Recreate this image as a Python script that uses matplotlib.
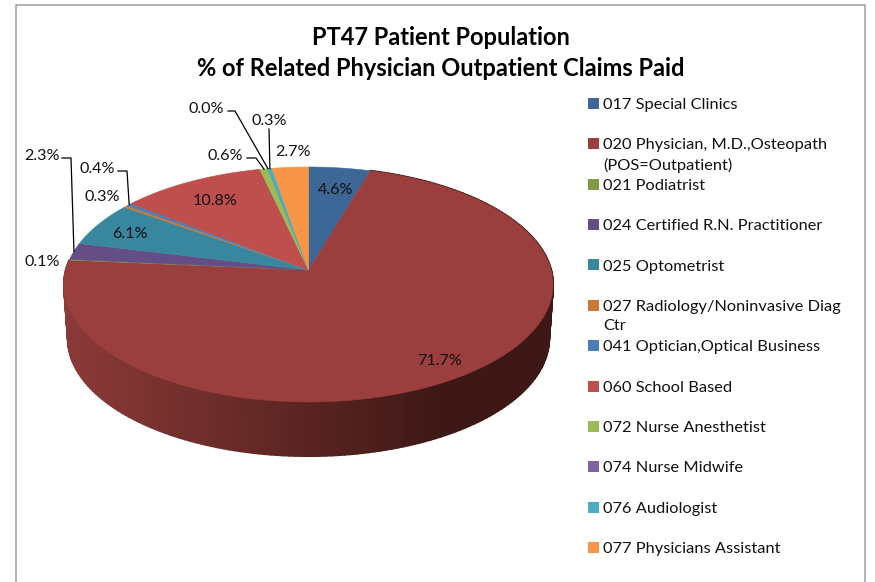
# PT47 pie, faked 3D with a projected circle
import numpy as np
import matplotlib
matplotlib.use('Agg')
import matplotlib.pyplot as plt

categories = ['017 Special Clinics', '020 Physician, M.D.,Osteopath\n(POS=Outpatient)', '021 Podiatrist',
              '024 Certified R.N. Practitioner', '025 Optometrist', '027 Radiology/Noninvasive Diag\nCtr',
              '041 Optician,Optical Business', '060 School Based', '072 Nurse Anesthetist',
              '074 Nurse Midwife', '076 Audiologist', '077 Physicians Assistant']
values = [4.6, 71.7, 0.1, 2.3, 6.1, 0.3, 0.4, 10.8, 0.6, 0.0, 0.3, 2.7]
colors = ['#3C6796', '#9A3F3D', '#7D9A45', '#654E85', '#38879F', '#CC7A33',
          '#4A7EBB', '#BE4F4C', '#9BBB59', '#8064A2', '#4BACC6', '#F79646']
legend_y = [103, 143, 184, 224, 264, 305, 345, 386, 426, 466, 507, 547]

plt.rcParams['font.family'] = ['Lato', 'DejaVu Sans']
fig = plt.figure(figsize=(8.75, 5.82), dpi=100)
ax = fig.add_axes([0, 0, 1, 1])
ax.set_xlim(0, 875)
ax.set_ylim(582, 0)
ax.axis('off')

# chart frame
ax.plot([16, 16, 865, 865], [582, 5, 5, 582], color='#A6A6A6', lw=1.2)

CX, CY = 308.5, 270
B, A, K = 242.6, 115.7, 0.1234
DEPTH = 54


def project(deg, frac=1.0, drop=0.0):
    # angle clockwise from 12 o'clock, frac of the radius, drop = px down
    t = np.radians(deg)
    u, v = frac * np.sin(t), frac * np.cos(t)
    w = 1 + K * v
    shrink = 1 - 0.016 * drop / DEPTH
    return CX + B * u / w * shrink, CY - A * v / w + drop


total = sum(values)
edges = np.concatenate([[0], np.cumsum(values)]) / total * 360

# side wall, only the big slice shows from the front
wall_angles = np.linspace(edges[1], edges[2], 200)
c0, c1 = np.array([0x8C, 0x3A, 0x38]), np.array([0x3E, 0x18, 0x16])
for a0, a1 in zip(wall_angles[1:][::-1], wall_angles[:-1][::-1]):
    x0, y0 = project(a0)
    x1, y1 = project(a1)
    x2, y2 = project(a1, drop=DEPTH)
    x3, y3 = project(a0, drop=DEPTH)
    mx = np.clip(((x0 + x1) / 2 - 64) / 380, 0, 1)
    # overlap the strips a bit so no seams show between them
    ax.fill([x0, x1, x2, x3], [y0, y1, y2, y3], color=(c0 + (c1 - c0) * mx) / 255, lw=1.5, joinstyle='round')

# top face
for i, col in enumerate(colors):
    ang = np.linspace(edges[i], edges[i + 1], max(int(edges[i + 1] - edges[i]) * 2, 2))
    xs, ys = project(ang)
    ax.fill(np.r_[CX, xs], np.r_[CY, ys], color=col, lw=0.4, zorder=3)

# values inside / next to the pie
label_pos = {0: (336, 188), 1: (440, 359), 2: (42, 260), 3: (42, 154), 4: (130, 232), 5: (102, 195),
             6: (97, 167), 7: (215, 199), 8: (225, 154), 9: (206, 107), 10: (269, 119), 11: (293, 150)}
for i, (x, y) in label_pos.items():
    ax.text(x, y + 2, f'{values[i]:.1f}%', ha='center', va='center', fontsize=11.6, color='#111111', zorder=6)

# leader lines: elbow points per label, the end sits on the slice rim
leaders = {3: [(62, 158), (71, 158)], 6: [(118, 171), (127, 171)],
           8: [(247, 158), (256, 158)], 9: [(228, 111), (235, 111)], 10: [(269, 129)]}
for i, pts in leaders.items():
    mid = (edges[i] + edges[i + 1]) / 2
    ex, ey = project(mid)
    ax.plot([p[0] for p in pts] + [ex], [p[1] for p in pts] + [ey], color='black', lw=0.9, zorder=5)

# legend
for y, name, col in zip(legend_y, categories, colors):
    ax.add_patch(plt.Rectangle((588, y - 5.5), 11, 11, color=col, lw=0))
    ax.text(603, y - 4.5, name, ha='left', va='top', fontsize=11.8, color='#111111', linespacing=1.45)

ax.text(441, 53, 'PT47 Patient Population\n% of Related Physician Outpatient Claims Paid', ha='center',
        va='center', fontsize=17, fontweight='bold', color='black', linespacing=1.4)

fig.savefig('out.png', dpi=100, facecolor='white')
